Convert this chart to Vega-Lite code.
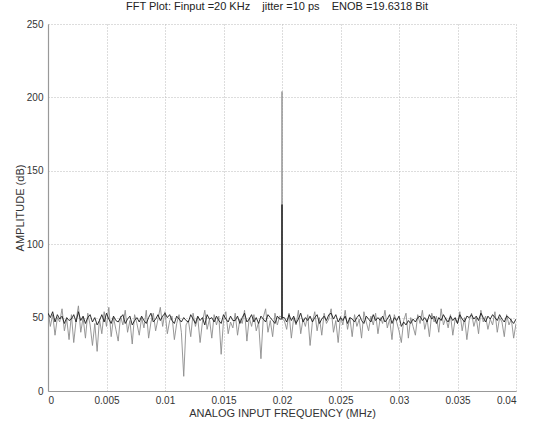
{
  "$schema": "https://vega.github.io/schema/vega-lite/v6.json",
  "width": 468,
  "height": 367,
  "autosize": {"type": "none"},
  "padding": {"left": 48, "top": 24, "right": 21, "bottom": 34},
  "background": "white",
  "title": {
    "text": "FFT Plot: Finput =20 KHz\u00a0\u00a0\u00a0\u00a0jitter =10 ps\u00a0\u00a0\u00a0\u00a0ENOB =19.6318 Bit",
    "font": "Liberation Sans",
    "fontSize": 11,
    "fontWeight": "normal",
    "color": "#222222",
    "offset": 7,
    "dx": -5
  },
  "data": {
    "values": [
      {"f":0.0,"a":55,"b":53},{"f":0.0002,"a":44,"b":50},{"f":0.0004,"a":52,"b":54},{"f":0.0006,"a":38,"b":47},{"f":0.0008,"a":50,"b":52},
      {"f":0.001,"a":47,"b":49},{"f":0.0012,"a":56,"b":51},{"f":0.0014,"a":41,"b":46},{"f":0.0016,"a":49,"b":50},{"f":0.0018,"a":35,"b":48},
      {"f":0.002,"a":52,"b":49},{"f":0.0022,"a":33,"b":52},{"f":0.0024,"a":48,"b":47},{"f":0.0026,"a":58,"b":54},{"f":0.0028,"a":40,"b":48},
      {"f":0.003,"a":50,"b":51},{"f":0.0032,"a":36,"b":46},{"f":0.0034,"a":53,"b":50},{"f":0.0036,"a":45,"b":52},{"f":0.0038,"a":31,"b":47},
      {"f":0.004,"a":46,"b":50},{"f":0.0042,"a":27,"b":45},{"f":0.0044,"a":49,"b":48},{"f":0.0046,"a":39,"b":52},{"f":0.0048,"a":54,"b":47},
      {"f":0.005,"a":44,"b":53},{"f":0.0052,"a":57,"b":49},{"f":0.0054,"a":37,"b":46},{"f":0.0056,"a":50,"b":51},{"f":0.0058,"a":42,"b":48},
      {"f":0.006,"a":34,"b":47},{"f":0.0062,"a":51,"b":50},{"f":0.0064,"a":45,"b":52},{"f":0.0066,"a":55,"b":46},{"f":0.0068,"a":40,"b":49},
      {"f":0.007,"a":48,"b":51},{"f":0.0072,"a":32,"b":45},{"f":0.0074,"a":52,"b":48},{"f":0.0076,"a":46,"b":50},{"f":0.0078,"a":38,"b":47},
      {"f":0.008,"a":50,"b":51},{"f":0.0082,"a":43,"b":48},{"f":0.0084,"a":55,"b":46},{"f":0.0086,"a":36,"b":50},{"f":0.0088,"a":47,"b":53},
      {"f":0.009,"a":53,"b":47},{"f":0.0092,"a":41,"b":49},{"f":0.0094,"a":49,"b":52},{"f":0.0096,"a":57,"b":48},{"f":0.0098,"a":44,"b":51},
      {"f":0.01,"a":54,"b":53},{"f":0.0102,"a":39,"b":50},{"f":0.0104,"a":48,"b":52},{"f":0.0106,"a":51,"b":48},{"f":0.0108,"a":35,"b":46},
      {"f":0.011,"a":46,"b":51},{"f":0.0112,"a":52,"b":49},{"f":0.0114,"a":40,"b":47},{"f":0.0116,"a":10,"b":50},{"f":0.0118,"a":45,"b":48},
      {"f":0.012,"a":48,"b":47},{"f":0.0122,"a":37,"b":52},{"f":0.0124,"a":53,"b":49},{"f":0.0126,"a":44,"b":46},{"f":0.0128,"a":50,"b":51},
      {"f":0.013,"a":33,"b":48},{"f":0.0132,"a":47,"b":50},{"f":0.0134,"a":55,"b":45},{"f":0.0136,"a":42,"b":52},{"f":0.0138,"a":49,"b":49},
      {"f":0.014,"a":36,"b":50},{"f":0.0142,"a":52,"b":47},{"f":0.0144,"a":45,"b":51},{"f":0.0146,"a":51,"b":48},{"f":0.0148,"a":25,"b":46},
      {"f":0.015,"a":48,"b":52},{"f":0.0152,"a":54,"b":49},{"f":0.0154,"a":39,"b":47},{"f":0.0156,"a":47,"b":51},{"f":0.0158,"a":43,"b":48},
      {"f":0.016,"a":53,"b":48},{"f":0.0162,"a":38,"b":51},{"f":0.0164,"a":49,"b":46},{"f":0.0166,"a":46,"b":50},{"f":0.0168,"a":55,"b":53},
      {"f":0.017,"a":34,"b":47},{"f":0.0172,"a":50,"b":49},{"f":0.0174,"a":44,"b":52},{"f":0.0176,"a":52,"b":47},{"f":0.0178,"a":41,"b":50},
      {"f":0.018,"a":47,"b":46},{"f":0.0182,"a":22,"b":51},{"f":0.0184,"a":50,"b":49},{"f":0.0186,"a":56,"b":47},{"f":0.0188,"a":40,"b":52},
      {"f":0.019,"a":48,"b":50},{"f":0.0192,"a":37,"b":48},{"f":0.0194,"a":53,"b":46},{"f":0.0196,"a":45,"b":51},{"f":0.0198,"a":51,"b":49},
      {"f":0.01999,"a":50,"b":49},{"f":0.02,"a":204,"b":127},{"f":0.02001,"a":49,"b":50},
      {"f":0.0202,"a":48,"b":50},{"f":0.0204,"a":42,"b":47},{"f":0.0206,"a":53,"b":52},{"f":0.0208,"a":36,"b":48},{"f":0.021,"a":50,"b":51},
      {"f":0.0212,"a":45,"b":46},{"f":0.0214,"a":55,"b":49},{"f":0.0216,"a":39,"b":53},{"f":0.0218,"a":49,"b":47},{"f":0.022,"a":44,"b":50},
      {"f":0.0222,"a":52,"b":48},{"f":0.0224,"a":31,"b":51},{"f":0.0226,"a":47,"b":47},{"f":0.0228,"a":54,"b":50},{"f":0.023,"a":41,"b":52},
      {"f":0.0232,"a":50,"b":46},{"f":0.0234,"a":38,"b":49},{"f":0.0236,"a":53,"b":51},{"f":0.0238,"a":46,"b":48},{"f":0.024,"a":49,"b":52},
      {"f":0.0242,"a":56,"b":53},{"f":0.0244,"a":40,"b":49},{"f":0.0246,"a":48,"b":52},{"f":0.0248,"a":33,"b":47},{"f":0.025,"a":51,"b":50},
      {"f":0.0252,"a":45,"b":48},{"f":0.0254,"a":55,"b":51},{"f":0.0256,"a":42,"b":46},{"f":0.0258,"a":50,"b":50},{"f":0.026,"a":37,"b":49},
      {"f":0.0262,"a":52,"b":47},{"f":0.0264,"a":44,"b":50},{"f":0.0266,"a":49,"b":52},{"f":0.0268,"a":36,"b":48},{"f":0.027,"a":54,"b":46},
      {"f":0.0272,"a":47,"b":51},{"f":0.0274,"a":41,"b":49},{"f":0.0276,"a":51,"b":47},{"f":0.0278,"a":45,"b":52},{"f":0.028,"a":53,"b":48},
      {"f":0.0282,"a":39,"b":50},{"f":0.0284,"a":50,"b":48},{"f":0.0286,"a":46,"b":51},{"f":0.0288,"a":55,"b":47},{"f":0.029,"a":43,"b":49},
      {"f":0.0292,"a":49,"b":52},{"f":0.0294,"a":35,"b":46},{"f":0.0296,"a":52,"b":50},{"f":0.0298,"a":47,"b":48},{"f":0.03,"a":41,"b":51},
      {"f":0.0302,"a":33,"b":44},{"f":0.0304,"a":48,"b":47},{"f":0.0306,"a":53,"b":45},{"f":0.0308,"a":36,"b":48},{"f":0.031,"a":50,"b":46},
      {"f":0.0312,"a":44,"b":49},{"f":0.0314,"a":38,"b":47},{"f":0.0316,"a":52,"b":50},{"f":0.0318,"a":46,"b":51},{"f":0.032,"a":55,"b":48},
      {"f":0.0322,"a":42,"b":50},{"f":0.0324,"a":49,"b":47},{"f":0.0326,"a":37,"b":52},{"f":0.0328,"a":53,"b":49},{"f":0.033,"a":47,"b":51},
      {"f":0.0332,"a":51,"b":46},{"f":0.0334,"a":40,"b":50},{"f":0.0336,"a":56,"b":48},{"f":0.0338,"a":45,"b":52},{"f":0.034,"a":50,"b":49},
      {"f":0.0342,"a":43,"b":47},{"f":0.0344,"a":52,"b":51},{"f":0.0346,"a":38,"b":48},{"f":0.0348,"a":49,"b":50},{"f":0.035,"a":46,"b":46},
      {"f":0.0352,"a":54,"b":52},{"f":0.0354,"a":41,"b":49},{"f":0.0356,"a":50,"b":47},{"f":0.0358,"a":35,"b":51},{"f":0.036,"a":48,"b":50},
      {"f":0.0362,"a":53,"b":52},{"f":0.0364,"a":44,"b":49},{"f":0.0366,"a":50,"b":51},{"f":0.0368,"a":39,"b":48},{"f":0.037,"a":55,"b":53},
      {"f":0.0372,"a":47,"b":50},{"f":0.0374,"a":51,"b":47},{"f":0.0376,"a":42,"b":51},{"f":0.0378,"a":49,"b":49},{"f":0.038,"a":45,"b":52},
      {"f":0.0382,"a":54,"b":50},{"f":0.0384,"a":40,"b":48},{"f":0.0386,"a":50,"b":52},{"f":0.0388,"a":47,"b":49},{"f":0.039,"a":37,"b":47},
      {"f":0.0392,"a":52,"b":51},{"f":0.0394,"a":45,"b":50},{"f":0.0396,"a":49,"b":48},{"f":0.0398,"a":36,"b":46},{"f":0.04,"a":46,"b":49}
    ]
  },
  "transform": [{"fold": ["a", "b"], "as": ["s", "amp"]}],
  "mark": {"type": "line", "strokeWidth": 0.9, "clip": true},
  "encoding": {
    "x": {
      "field": "f",
      "type": "quantitative",
      "scale": {"domain": [0, 0.04], "nice": false, "zero": false},
      "axis": {
        "values": [0, 0.005, 0.01, 0.015, 0.02, 0.025, 0.03, 0.035, 0.04],
        "format": "~g",
        "title": "ANALOG INPUT FREQUENCY (MHz)",
        "labelPadding": 4,
        "titlePadding": 2
      }
    },
    "y": {
      "field": "amp",
      "type": "quantitative",
      "scale": {"domain": [0, 250], "nice": false},
      "axis": {
        "values": [0, 50, 100, 150, 200, 250],
        "title": "AMPLITUDE (dB)",
        "labelPadding": 5,
        "titlePadding": 1
      }
    },
    "color": {
      "field": "s",
      "type": "nominal",
      "scale": {"domain": ["a", "b"], "range": ["#8c8c8c", "#1a1a1a"]},
      "legend": null
    },
    "order": {"field": "s", "type": "nominal"}
  },
  "config": {
    "view": {"stroke": null},
    "axis": {
      "labelFont": "Liberation Sans",
      "titleFont": "Liberation Sans",
      "labelFontSize": 10,
      "titleFontSize": 11,
      "titleFontWeight": "normal",
      "labelColor": "#333333",
      "titleColor": "#333333",
      "domainColor": "#999999",
      "domainWidth": 1.2,
      "ticks": false,
      "grid": true,
      "gridColor": "#bbbbbb",
      "gridDash": [1, 2],
      "gridWidth": 1,
      "gridOpacity": 1
    }
  }
}
